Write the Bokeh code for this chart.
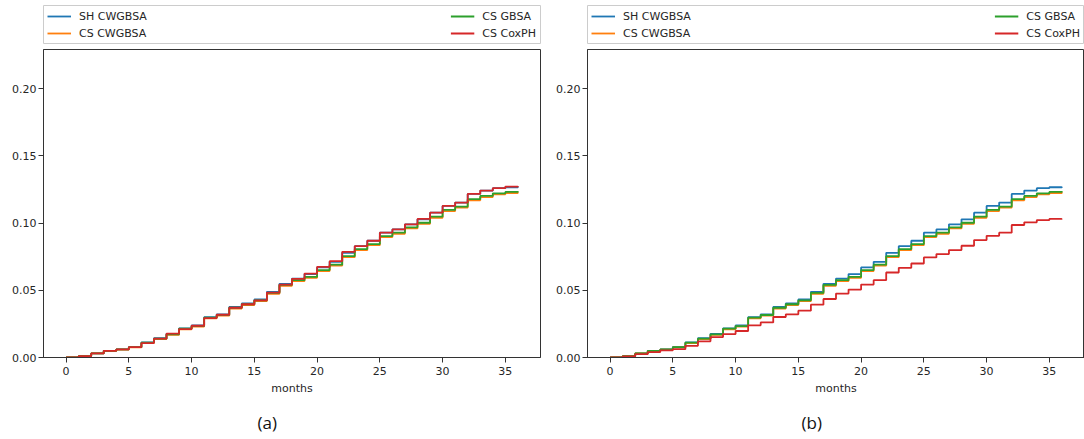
from bokeh.plotting import figure
from bokeh.layouts import row, column
from bokeh.models import Range1d, FixedTicker, Legend, LegendItem, Title, NumeralTickFormatter
from bokeh.embed import file_html
from bokeh.resources import INLINE

months = list(range(37))

sh_cwgbsa = [0.0, 0.001, 0.003, 0.005, 0.006, 0.0078, 0.0112, 0.0143, 0.0176, 0.0217,
             0.0238, 0.0300, 0.0321, 0.0376, 0.0402, 0.0432, 0.0488, 0.0548, 0.0587, 0.0620,
             0.0670, 0.0711, 0.0778, 0.0828, 0.0868, 0.0928, 0.0952, 0.0990, 0.1027, 0.1077,
             0.1127, 0.1152, 0.1216, 0.1241, 0.1259, 0.1266, 0.1270]
cs_cwgbsa = [0.0, 0.001, 0.003, 0.0048, 0.0058, 0.0075, 0.0107, 0.0137, 0.0168, 0.0210,
             0.0230, 0.0291, 0.0311, 0.0364, 0.0390, 0.0419, 0.0474, 0.0533, 0.0568, 0.0593,
             0.0643, 0.0683, 0.0746, 0.0798, 0.0835, 0.0895, 0.0920, 0.0960, 0.0994, 0.1039,
             0.1089, 0.1114, 0.1169, 0.1193, 0.1213, 0.1223, 0.1228]
cs_gbsa = [0.0, 0.001, 0.003, 0.005, 0.006, 0.0077, 0.0110, 0.0140, 0.0172, 0.0214,
           0.0234, 0.0296, 0.0316, 0.0370, 0.0396, 0.0425, 0.0480, 0.0540, 0.0575, 0.0600,
           0.0650, 0.0690, 0.0753, 0.0806, 0.0843, 0.0903, 0.0928, 0.0968, 0.1002, 0.1047,
           0.1097, 0.1122, 0.1177, 0.1201, 0.1221, 0.1231, 0.1236]
cs_coxph_a = [0.0, 0.001, 0.003, 0.005, 0.006, 0.0077, 0.0107, 0.0140, 0.0177, 0.0211,
              0.0236, 0.0293, 0.0318, 0.0370, 0.0396, 0.0425, 0.0483, 0.0542, 0.0585, 0.0624,
              0.0674, 0.0716, 0.0786, 0.0828, 0.0868, 0.0928, 0.0952, 0.0990, 0.1030, 0.1077,
              0.1127, 0.1152, 0.1216, 0.1241, 0.1259, 0.1271, 0.1276]
cs_coxph_b = [0.0, 0.0008, 0.0025, 0.0040, 0.0053, 0.0062, 0.0087, 0.0120, 0.0152, 0.0174,
              0.0197, 0.0239, 0.0261, 0.0301, 0.0321, 0.0348, 0.0393, 0.0435, 0.0475, 0.0505,
              0.0542, 0.0575, 0.0632, 0.0667, 0.0699, 0.0744, 0.0769, 0.0799, 0.0831, 0.0873,
              0.0905, 0.0928, 0.0985, 0.1005, 0.1022, 0.1030, 0.1032]

series_names = ["SH CWGBSA", "CS CWGBSA", "CS GBSA", "CS CoxPH"]
colors = ["#1f77b4", "#ff7f0e", "#2ca02c", "#d62728"]
x_ticks = [0, 5, 10, 15, 20, 25, 30, 35]
y_ticks = [0.0, 0.05, 0.10, 0.15, 0.20]
x_label = "months"
captions = ["(a)", "(b)"]

FONT = "DejaVu Sans"
INK = "#262626"
FRAME_W = 497


def make_panel(series, caption, left_b, right_b):
    # legend strip: same series drawn out of view, only their legend entries show
    leg = figure(frame_width=FRAME_W, frame_height=38,
                 x_range=Range1d(-10, -9), y_range=Range1d(0, 1),
                 x_axis_type=None, y_axis_type=None,
                 toolbar_location=None, output_backend="svg",
                 min_border_left=left_b, min_border_right=right_b,
                 min_border_top=5, min_border_bottom=3,
                 outline_line_color="#cccccc", outline_line_width=1)
    handles = [leg.step(months, vals, mode="after", line_color=c, line_width=1.8)
               for vals, c in zip(series, colors)]
    common = dict(label_text_font=FONT, label_text_font_size="11px",
                  label_text_color=INK, label_standoff=8, glyph_width=24,
                  glyph_height=14, label_height=14, spacing=3, padding=4,
                  margin=0, border_line_alpha=0, background_fill_alpha=0)
    l1 = Legend(items=[LegendItem(label=series_names[0], renderers=[handles[0]]),
                       LegendItem(label=series_names[1], renderers=[handles[1]])],
                location="top_left", **common)
    l2 = Legend(items=[LegendItem(label=series_names[2], renderers=[handles[2]]),
                       LegendItem(label=series_names[3], renderers=[handles[3]])],
                location="top_right", **common)
    leg.add_layout(l1)
    leg.add_layout(l2)

    p = figure(frame_width=FRAME_W, frame_height=308,
               x_range=Range1d(-1.8, 37.8), y_range=Range1d(0, 0.229),
               toolbar_location=None, output_backend="svg",
               min_border_left=left_b, min_border_right=right_b,
               min_border_top=3, min_border_bottom=40,
               outline_line_color="#333333", outline_line_width=1)
    for vals, c in zip(series, colors):
        p.step(months, vals, mode="after", line_color=c, line_width=1.8)
    p.grid.visible = False
    p.xaxis.ticker = FixedTicker(ticks=x_ticks)
    p.yaxis.ticker = FixedTicker(ticks=y_ticks)
    p.yaxis.formatter = NumeralTickFormatter(format="0.00")
    p.xaxis.axis_label = x_label
    for ax in (p.xaxis, p.yaxis):
        ax.axis_line_color = "#333333"
        ax.major_tick_line_color = "#333333"
        ax.major_tick_out = 5
        ax.major_tick_in = 0
        ax.minor_tick_line_color = None
        ax.major_label_text_font = FONT
        ax.major_label_text_font_size = "11px"
        ax.major_label_text_color = INK
        ax.axis_label_text_font = FONT
        ax.axis_label_text_font_size = "11px"
        ax.axis_label_text_font_style = "normal"
        ax.axis_label_text_color = INK
    p.xaxis.major_label_standoff = 4
    p.yaxis.major_label_standoff = 2
    p.xaxis.axis_label_standoff = 4
    p.add_layout(Title(text=caption, align="left", offset=214,
                       text_font="Open Sans", text_font_size="17px",
                       text_font_style="normal", text_color="#111111",
                       standoff=23), "below")
    return column(leg, p, spacing=0)


panel_a = make_panel([sh_cwgbsa, cs_cwgbsa, cs_gbsa, cs_coxph_a], captions[0], 43, 4)
panel_b = make_panel([sh_cwgbsa, cs_cwgbsa, cs_gbsa, cs_coxph_b], captions[1], 43, 0)
layout = row(panel_a, panel_b, spacing=0)

open("out.html", "w").write(file_html(layout, INLINE))
